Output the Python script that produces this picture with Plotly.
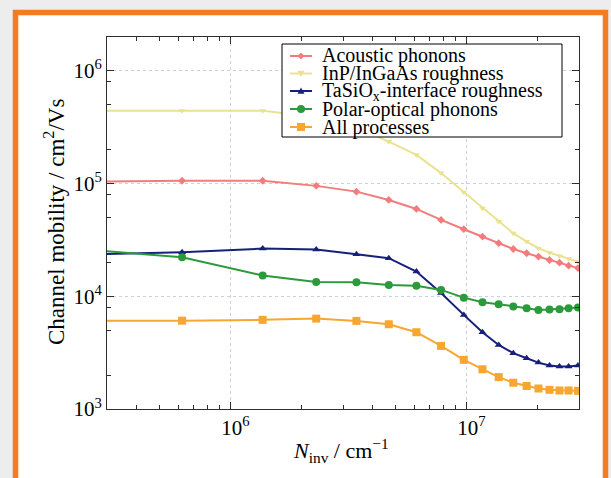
import math
import plotly.graph_objects as go

# ---------------- data ----------------
n_inv = [2.8e5, 6.24e5, 1.37e6, 2.31e6, 3.42e6, 4.69e6, 6.14e6, 7.81e6, 9.75e6,
         1.17e7, 1.37e7, 1.58e7, 1.80e7, 2.02e7, 2.25e7, 2.48e7, 2.71e7, 2.97e7]

acoustic = [1.04e5, 1.06e5, 1.06e5, 9.55e4, 8.49e4, 7.16e4, 5.96e4, 4.76e4, 3.94e4,
            3.39e4, 2.96e4, 2.63e4, 2.41e4, 2.25e4, 2.10e4, 1.99e4, 1.87e4, 1.78e4]
inp_roughness = [4.44e5, 4.44e5, 4.44e5, 3.91e5, 3.12e5, 2.36e5, 1.80e5, 1.24e5, 8.39e4,
                 6.06e4, 4.60e4, 3.63e4, 3.06e4, 2.67e4, 2.44e4, 2.28e4, 2.15e4, 2.03e4]
tasio_roughness = [2.36e4, 2.46e4, 2.65e4, 2.60e4, 2.36e4, 2.18e4, 1.66e4, 1.07e4, 6.84e3,
                   4.80e3, 3.70e3, 3.13e3, 2.82e3, 2.58e3, 2.43e3, 2.38e3, 2.38e3, 2.43e3]
polar_optical = [2.54e4, 2.22e4, 1.53e4, 1.34e4, 1.33e4, 1.26e4, 1.24e4, 1.14e4, 9.73e3,
                 8.86e3, 8.51e3, 8.11e3, 7.84e3, 7.57e3, 7.62e3, 7.69e3, 7.84e3, 7.94e3]
all_processes = [6.08e3, 6.08e3, 6.18e3, 6.34e3, 6.05e3, 5.65e3, 4.80e3, 3.63e3, 2.73e3,
                 2.25e3, 1.92e3, 1.71e3, 1.60e3, 1.52e3, 1.48e3, 1.46e3, 1.46e3, 1.45e3]

series_names = ["Acoustic phonons", "InP/InGaAs roughness",
                "TaSiO<sub>x</sub>-interface roughness",
                "Polar-optical phonons", "All processes"]

x_tick_vals = [1e6, 1e7]
x_tick_text = ["10<sup>6</sup>", "10<sup>7</sup>"]
x_minor_vals = [4e5, 5e5, 6e5, 7e5, 8e5, 9e5, 2e6, 3e6, 4e6, 5e6, 6e6, 7e6, 8e6, 9e6, 2e7]
y_tick_vals = [1e3, 1e4, 1e5, 1e6]
y_tick_text = ["10<sup>3</sup>", "10<sup>4</sup>", "10<sup>5</sup>", "10<sup>6</sup>"]
y_minor_vals = [2e3, 5e3, 8e3, 2e4, 5e4, 8e4, 2e5, 5e5, 8e5]

x_title = "<i>N</i><sub>inv</sub> / cm<sup>\u22121</sup>"
y_title = "Channel mobility / cm<sup>2</sup>/Vs"

# ---------------- style ----------------
W, H = 611, 478
ML, MR, MT, MB = 107, 32, 37, 69
PW, PH = W - ML - MR, H - MT - MB
FONT = "Liberation Serif, Times New Roman, serif"
colors = ["#F27C7C", "#EAE290", "#16207A", "#2A9A3A", "#F7A631"]
symbols = ["diamond", "triangle-down", "triangle-up", "circle", "square"]
msizes = [6, 6, 7, 8, 8]
ORANGE = "#F47B20"
AX = "#2e2e2e"


def px_x(x):
    return (x - ML) / PW


def px_y(y):
    return (H - MB - y) / PH


fig = go.Figure()
for name, ys, c, s, ms in zip(series_names,
                              [acoustic, inp_roughness, tasio_roughness, polar_optical, all_processes],
                              colors, symbols, msizes):
    fig.add_trace(go.Scatter(x=n_inv, y=ys, mode="lines+markers", name=name,
                             line=dict(color=c, width=2),
                             marker=dict(symbol=s, size=ms, color=c),
                             showlegend=False))

axis_common = dict(type="log", showline=True, linecolor=AX, linewidth=1, mirror="allticks",
                   ticks="inside", ticklen=7, tickcolor=AX, tickwidth=1.2,
                   showgrid=True, gridcolor="#C9D0DE", griddash="dot", gridwidth=1,
                   zeroline=False, tickfont=dict(family=FONT, size=21, color="black"))

fig.update_xaxes(range=[math.log10(3e5), math.log10(3e7)], tickmode="array",
                 tickvals=x_tick_vals, ticktext=x_tick_text, ticklabelshift=5,
                 minor=dict(tickmode="array", tickvals=x_minor_vals, ticks="inside",
                            ticklen=4, tickcolor=AX, tickwidth=1.2, showgrid=False),
                 **axis_common)
fig.update_yaxes(range=[3, math.log10(2e6)], tickmode="array",
                 tickvals=y_tick_vals, ticktext=y_tick_text,
                 minor=dict(tickmode="array", tickvals=y_minor_vals, ticks="inside",
                            ticklen=4, tickcolor=AX, tickwidth=1.2, showgrid=False),
                 **axis_common)

shapes = []
# card frame
shapes.append(dict(type="rect", xref="paper", yref="paper", layer="below",
                   x0=px_x(15.5), x1=px_x(605.5), y0=px_y(495), y1=px_y(12.5),
                   fillcolor="white", line=dict(color=ORANGE, width=5.5)))

# legend box
shapes.append(dict(type="rect", xref="paper", yref="paper", layer="above",
                   x0=px_x(282), x1=px_x(562), y0=px_y(137), y1=px_y(44),
                   fillcolor="white", line=dict(color="black", width=1)))

leg_y = [56, 73.5, 91, 109, 127]
lx0, lx1, lxc, ltx = 290, 312, 301, 320
annotations = []
for i, (name, c, s) in enumerate(zip(series_names, colors, symbols)):
    yc = leg_y[i]
    shapes.append(dict(type="line", xref="paper", yref="paper", layer="above",
                       x0=px_x(lx0), x1=px_x(lx1), y0=px_y(yc), y1=px_y(yc),
                       line=dict(color=c, width=2)))
    r = 3.5 if s in ("diamond", "triangle-down", "triangle-up") else 4
    if s == "circle":
        shapes.append(dict(type="circle", xref="paper", yref="paper", layer="above",
                           x0=px_x(lxc - r), x1=px_x(lxc + r), y0=px_y(yc + r), y1=px_y(yc - r),
                           fillcolor=c, line=dict(color=c, width=0)))
    elif s == "square":
        shapes.append(dict(type="rect", xref="paper", yref="paper", layer="above",
                           x0=px_x(lxc - r), x1=px_x(lxc + r), y0=px_y(yc + r), y1=px_y(yc - r),
                           fillcolor=c, line=dict(color=c, width=0)))
    else:
        if s == "diamond":
            pts = [(lxc, yc - r), (lxc + r, yc), (lxc, yc + r), (lxc - r, yc)]
        elif s == "triangle-up":
            pts = [(lxc, yc - r), (lxc + r, yc + r * 0.8), (lxc - r, yc + r * 0.8)]
        else:
            pts = [(lxc, yc + r), (lxc + r, yc - r * 0.8), (lxc - r, yc - r * 0.8)]
        path = "M " + " L ".join(f"{px_x(a):.5f},{px_y(b):.5f}" for a, b in pts) + " Z"
        shapes.append(dict(type="path", xref="paper", yref="paper", layer="above",
                           path=path, fillcolor=c, line=dict(color=c, width=0)))
    annotations.append(dict(text=name, xref="paper", yref="paper", x=px_x(ltx), y=px_y(yc),
                            xanchor="left", yanchor="middle", showarrow=False,
                            font=dict(family=FONT, size=20, color="black")))

annotations.append(dict(text=x_title, xref="paper", yref="paper", x=px_x(341), y=px_y(451),
                        xanchor="center", yanchor="middle", showarrow=False,
                        font=dict(family=FONT, size=22, color="black")))
annotations.append(dict(text=y_title, xref="paper", yref="paper", x=px_x(54), y=px_y(222),
                        xanchor="center", yanchor="middle", showarrow=False, textangle=-90,
                        font=dict(family=FONT, size=23, color="black")))

fig.update_layout(width=W, height=H, margin=dict(l=ML, r=MR, t=MT, b=MB, pad=0),
                  paper_bgcolor="#EDEDED", plot_bgcolor="rgba(0,0,0,0)",
                  font=dict(family=FONT, size=20, color="black"),
                  shapes=shapes, annotations=annotations, showlegend=False)

fig.write_html("out.html")
